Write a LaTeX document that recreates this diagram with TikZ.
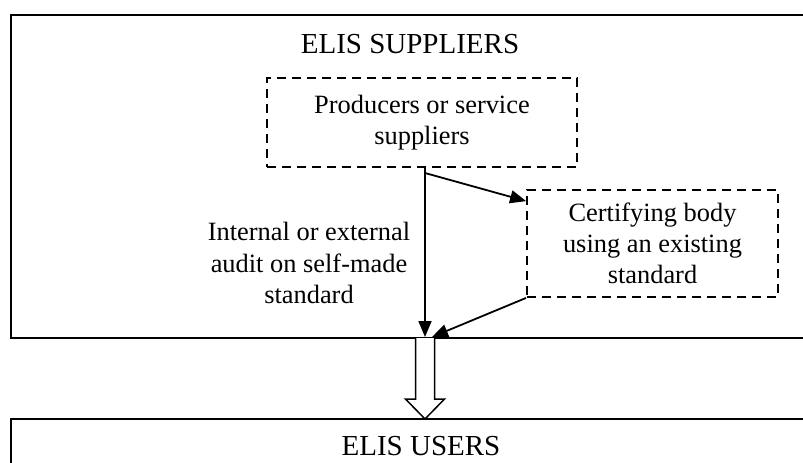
\documentclass[tikz,border=0pt]{standalone}
\usepackage{fontspec}
\setmainfont{Liberation Serif}
\usetikzlibrary{calc,arrows.meta}

\begin{document}
\begin{tikzpicture}
[
x=0.5pt, y=-0.5pt,
font=\fontsize{13.2}{15.6}\selectfont,
frame/.style={line width=1pt},
title/.style={font=\fontsize{14.5}{17}\selectfont},
dashbox/.style={draw, line width=0.9pt, dash pattern=on 4.5pt off 3pt,
	align=center, inner sep=0pt},
flow/.style={line width=0.9pt, -{Triangle[length=8pt,width=6.5pt]}},
hollow/.style={line width=0.75pt, fill=white}]
\useasboundingbox (0,0) rectangle (803,462);
% the two areas, open on the right
\draw[frame] (803,15) -- (11,15) -- (11,338) -- (803,338);
\draw[frame] (803,419) -- (11,419) -- (11,470);
\node[title] (supp) at (410,44) {ELIS SUPPLIERS};
\node[title] (users) at (421,446) {ELIS USERS};
\node[dashbox, minimum width=155pt, minimum height=44.5pt] (prod) at (422,122.5)
	{Producers or service\\suppliers};
\node[dashbox, minimum width=125.5pt, minimum height=53.5pt] (cert) at (652.5,243.5)
	{Certifying body\\using an existing\\standard};
\node[align=center] (audit) at (309,263)
	{Internal or external\\audit on self-made\\standard};
\coordinate (split) at (425,173);
\coordinate (hit) at (425,337);
\coordinate (join) at (432,337);
\draw[flow] (prod.south -| split) -- (hit);
\draw[flow] (split) -- ($(cert.north west)+(0,12)$);
\draw[flow] (cert.south west) -- (join);
% hollow arrow down to the users
\coordinate (blk) at (425,338);
\draw[hollow] (blk) ++(-9.5,0) -- ++(0,61) -- ++(-10,0) -- (blk |- 0,419)
	-- ++(19.5,-20) -- ++(-10,0) -- ++(0,-61);
\end{tikzpicture}
\end{document}
